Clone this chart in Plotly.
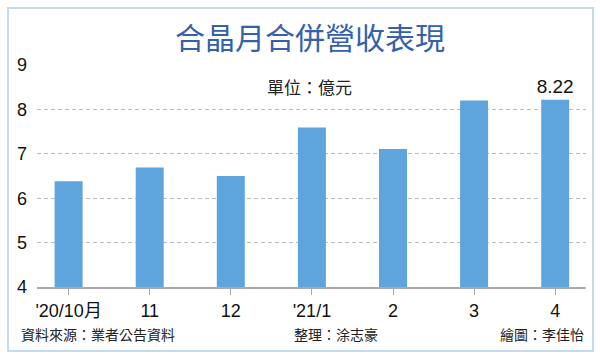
import plotly.graph_objects as go

categories = ["'20/10月", "11", "12", "'21/1", "2", "3", "4"]
revenue = [6.38, 6.69, 6.50, 7.59, 7.11, 8.20, 8.22]
labels = ["", "", "", "", "", "", "8.22"]

title_text = "合晶月合併營收表現"
unit_text = "單位：億元"
source_text = "資料來源：業者公告資料"
editor_text = "整理：涂志豪"
artist_text = "繪圖：李佳怡"

num_font = "Liberation Sans, Arial, Noto Sans CJK TC"
cjk_font = "Noto Sans CJK TC, Liberation Sans"

fig = go.Figure()
fig.add_trace(go.Bar(
    x=list(range(len(categories))), y=revenue,
    width=0.345,
    marker=dict(color="#5ea5de", line=dict(width=0)),
    text=labels, textposition="outside", constraintext="none",
    textfont=dict(family=num_font, size=19, color="#111111"),
    cliponaxis=False,
))

fig.update_layout(
    width=600, height=363,
    margin=dict(l=37, r=14, t=65, b=76),
    paper_bgcolor="white", plot_bgcolor="white",
    showlegend=False,
    bargap=0.5,
    xaxis=dict(
        tickmode="array", tickvals=list(range(len(categories))), ticktext=categories,
        range=[-0.39, 6.38],
        showline=True, linecolor="#aaaaaa", linewidth=2,
        ticks="outside", ticklen=6, tickcolor="#aaaaaa", tickwidth=1,
        tickfont=dict(family=num_font, size=18, color="#111111"),
        showgrid=False, zeroline=False,
    ),
    yaxis=dict(
        range=[4, 9], dtick=1, tick0=4,
        showgrid=True, gridcolor="#bbbbbb", gridwidth=1, griddash="4px,3px",
        showline=False, zeroline=False,
        ticks="", ticklabelstandoff=9,
        tickfont=dict(family=num_font, size=18, color="#111111"),
    ),
)

# frame
fig.add_shape(type="rect", xref="paper", yref="paper",
              x0=-0.0528, x1=1.0128, y0=-0.288, y1=1.2568,
              line=dict(color="#c3dbef", width=2), fillcolor="rgba(0,0,0,0)", layer="below")

fig.add_annotation(text=title_text, xref="paper", yref="paper", x=0.497, y=1.13,
                   xanchor="center", yanchor="middle", showarrow=False,
                   font=dict(family=cjk_font, size=30, color="#3560ad"))
fig.add_annotation(text=unit_text, xref="paper", yref="paper", x=0.497, y=0.905,
                   xanchor="center", yanchor="middle", showarrow=False,
                   font=dict(family=cjk_font, size=17, color="#222222"))
fig.add_annotation(text=source_text, xref="paper", yref="paper", x=-0.032, y=-0.21,
                   xanchor="left", yanchor="middle", showarrow=False,
                   font=dict(family=cjk_font, size=14, color="#222222"))
fig.add_annotation(text=editor_text, xref="paper", yref="paper", x=0.464, y=-0.21,
                   xanchor="left", yanchor="middle", showarrow=False,
                   font=dict(family=cjk_font, size=14, color="#222222"))
fig.add_annotation(text=artist_text, xref="paper", yref="paper", x=1.0, y=-0.21,
                   xanchor="right", yanchor="middle", showarrow=False,
                   font=dict(family=cjk_font, size=14, color="#222222"))

fig.write_html("out.html")
